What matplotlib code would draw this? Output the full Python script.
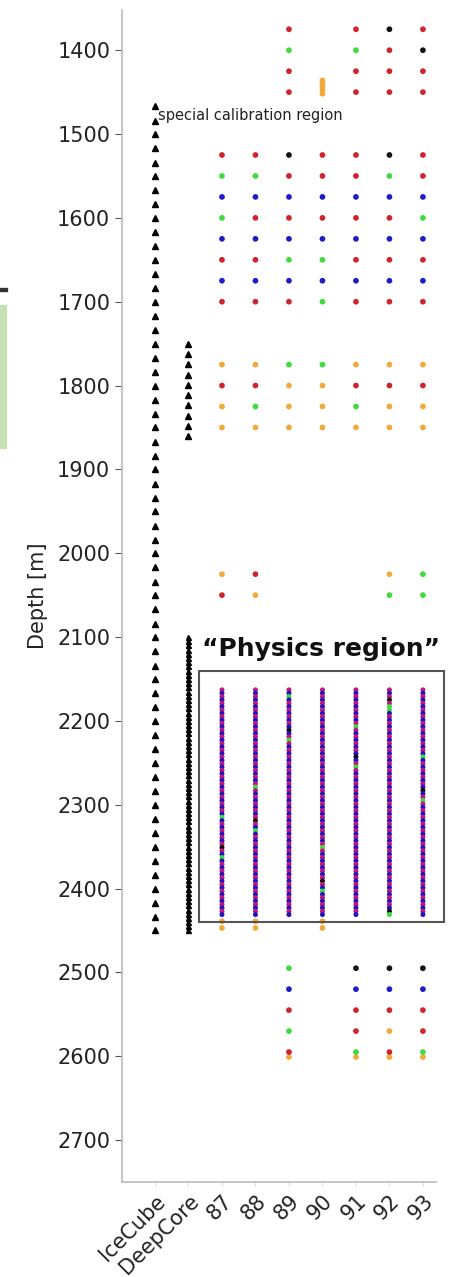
import matplotlib.pyplot as plt
from matplotlib.patches import Rectangle

columns = ['IceCube', 'DeepCore', '87', '88', '89', '90', '91', '92', '93']

# in-ice strings: one depth per DOM
icecube_depths = [
    1467, 1484, 1500, 1517, 1534, 1550, 1567, 1584, 1600, 1617,
    1634, 1650, 1667, 1684, 1700, 1717, 1734, 1750, 1767, 1784,
    1800, 1817, 1834, 1850, 1867, 1884, 1900, 1917, 1934, 1950,
    1967, 1984, 2000, 2017, 2034, 2050, 2067, 2084, 2100, 2117,
    2134, 2150, 2167, 2184, 2200, 2217, 2234, 2250, 2267, 2284,
    2300, 2317, 2334, 2350, 2367, 2384, 2400, 2417, 2434, 2450,
]
deepcore_veto_depths = [1750, 1762, 1774, 1787, 1799, 1811, 1823, 1836, 1848, 1860]
deepcore_fiducial_depths = [
    2100, 2105, 2110, 2115, 2120, 2125, 2130, 2135, 2140, 2145,
    2150, 2155, 2160, 2165, 2170, 2175, 2180, 2185, 2190, 2195,
    2200, 2205, 2210, 2215, 2220, 2225, 2230, 2235, 2240, 2245,
    2250, 2255, 2260, 2265, 2270, 2275, 2280, 2285, 2290, 2295,
    2300, 2305, 2310, 2315, 2320, 2325, 2330, 2335, 2340, 2345,
    2350, 2355, 2360, 2365, 2370, 2375, 2380, 2385, 2390, 2395,
    2400, 2405, 2410, 2415, 2420, 2425, 2430, 2435, 2440, 2445,
    2450,
]

# upgrade strings 87..93 outside the physics region, one code per string
# r/g/b/k/o = device colour, '.' = nothing at that depth
grid_depths = [1375, 1400, 1425, 1450,
               1436, 1440, 1444, 1448, 1452,
               1525, 1550, 1575, 1600, 1625, 1650, 1675, 1700,
               1775, 1800, 1825, 1850,
               2025, 2050,
               2439, 2447,
               2495, 2520, 2545, 2570, 2601, 2595]
grid_codes = ['..r.rkr', '..g.grk', '..r.rrr', '..r.rrr',
              '...o...', '...o...', '...o...', '...o...', '...o...',
              'rrkrrkr', 'ggrrrgr', 'bbbbbbb', 'grrrrrg',
              'bbbbbbb', 'rrggrrr', 'bbbbbbb', 'rrrgrrr',
              'ooggooo', 'rroorrr', 'ogoogoo', 'ooooooo',
              'or...og', 'ro...gg',
              'oo.o...', 'oo.o...',
              '..g.kkk', '..b.bbb', '..r.rrr', '..g.ror', '..o.ooo', '..r.grg']

# dense part of the upgrade strings
physics_depths = [
    2163, 2167, 2171, 2175, 2179, 2183, 2187, 2191, 2195, 2199,
    2203, 2207, 2211, 2215, 2219, 2223, 2227, 2231, 2235, 2239,
    2243, 2247, 2251, 2255, 2259, 2263, 2267, 2271, 2275, 2279,
    2283, 2287, 2291, 2295, 2299, 2303, 2307, 2311, 2315, 2319,
    2323, 2327, 2331, 2335, 2339, 2343, 2347, 2351, 2355, 2359,
    2363, 2367, 2371, 2375, 2379, 2383, 2387, 2391, 2395, 2399,
    2403, 2407, 2411, 2415, 2419, 2423, 2427, 2431,
]
physics_codes = [
    'rbrbrbrbrb' 'rbrbrbrbrb' 'rbrbrbrbrb' 'rbrbrbrbgb' 'rbrbrbrkrb' 'gbrbrbrbrb' 'rbrbrbrb',
    'rbrbrbrbrb' 'rbrbrbrbrb' 'rbrbrbrbrg' 'rbrbrbrbrk' 'rbgbrbrbrb' 'rbrbrbrbrb' 'rbrbrbrb',
    'rbgbrbrbrb' 'rbkbrgrbrb' 'rbrbrbrbrb' 'rbrbrbrbrb' 'rbrbrbrbrb' 'rbrbrbrbrb' 'rbrbrbrb',
    'rbrbrbrbrb' 'rbrbrbrbrb' 'rbrbrbrbrb' 'rbrbrbrbrb' 'rbrbrbrgrb' 'rbrbrbrkrb' 'gbrbrbrb',
    'rbrbrbrbrb' 'rgrbrbrbrb' 'kbrgrbrbrb' 'rbrbrbrbrb' 'rbrbrbrbrb' 'rbrbrbrbrb' 'rbrbrbrb',
    'rbrkrggbrb' 'rbrbrbrbrb' 'rbrbrbrbrb' 'rbrbrbrbrb' 'rbrbrbrbrb' 'rbrbrbrbrb' 'rbrbrbkg',
    'rbrbrbrbrb' 'rbrbrbrbrb' 'gbrbrbrbrb' 'kbrgrbrbrb' 'rbrbrbrbrb' 'rbrbrbrbrb' 'rbrbrbrb',
]

colours = {'r': '#d0232b', 'g': '#3ddc3d', 'b': '#1c1cc8', 'k': '#111111', 'o': '#f2a93b'}
physics_colours = {'r': '#c0187a', 'g': '#3ddc3d', 'b': '#2414c0', 'k': '#111111'}

plt.rcParams['font.family'] = 'DejaVu Sans'

fig = plt.figure(figsize=(4.49, 12.77), dpi=100)
ax = fig.add_axes([0.2717, 0.0744, 0.6993, 0.9178])

ax.plot([0] * len(icecube_depths), icecube_depths, '^', color='black',
        markersize=4, linestyle='none')
ax.plot([1] * len(deepcore_veto_depths), deepcore_veto_depths, '^', color='black',
        markersize=4, linestyle='none')
ax.plot([1] * len(deepcore_fiducial_depths), deepcore_fiducial_depths, '^', color='black',
        markersize=3.6, linestyle='none')

xs, ys, cs = [], [], []
for depth, code in zip(grid_depths, grid_codes):
    for j, c in enumerate(code):
        if c != '.':
            xs.append(2 + j)
            ys.append(depth)
            cs.append(colours[c])
ax.scatter(xs, ys, c=cs, s=17, linewidths=0, zorder=3)

px, py, pc = [], [], []
for j, code in enumerate(physics_codes):
    for depth, c in zip(physics_depths, code):
        px.append(2 + j)
        py.append(depth)
        pc.append(physics_colours[c])
ax.scatter(px, py, c=pc, s=13, linewidths=0, zorder=3)

# physics region frame
ax.add_patch(Rectangle((1.3, 2140), 7.33, 300, fill=False, edgecolor='#555555',
                       linewidth=1.5, clip_on=False, zorder=4))
ax.text(4.97, 2114, '\u201cPhysics region\u201d', fontsize=18, fontweight='bold',
        ha='center', va='center', color='#111111')
ax.text(0.08, 1478, 'special calibration region', fontsize=10.5, ha='left',
        va='center', color='#222222')

ax.set_xlim(-0.985, 8.39)
ax.set_ylim(2750, 1352)
ax.set_xticks(range(len(columns)))
ax.set_xticklabels(columns, rotation=45, ha='right', rotation_mode='anchor')
ax.set_yticks([1400, 1500, 1600, 1700, 1800, 1900, 2000, 2100, 2200,
               2300, 2400, 2500, 2600, 2700])
ax.tick_params(axis='y', labelsize=15, length=5, color='#555555', labelcolor='#222222')
ax.tick_params(axis='x', labelsize=15, length=3, color='#dddddd', labelcolor='#222222')
ax.set_ylabel('Depth [m]', fontsize=15, color='#222222')
ax.yaxis.set_label_coords(-0.235, 0.5)

for side in ['top', 'right']:
    ax.spines[side].set_visible(False)
for side in ['left', 'bottom']:
    ax.spines[side].set_color('#bbbbbb')
    ax.spines[side].set_linewidth(1.2)

# edge of the neighbouring panel
fig.patches.append(Rectangle((0, 1 - 448 / 1277), 6 / 449, 143 / 1277,
                             transform=fig.transFigure, color='#c5e0b4'))
fig.patches.append(Rectangle((0, 1 - 291 / 1277), 7 / 449, 3 / 1277,
                             transform=fig.transFigure, color='#333333'))

fig.savefig('out.png', dpi=100)
